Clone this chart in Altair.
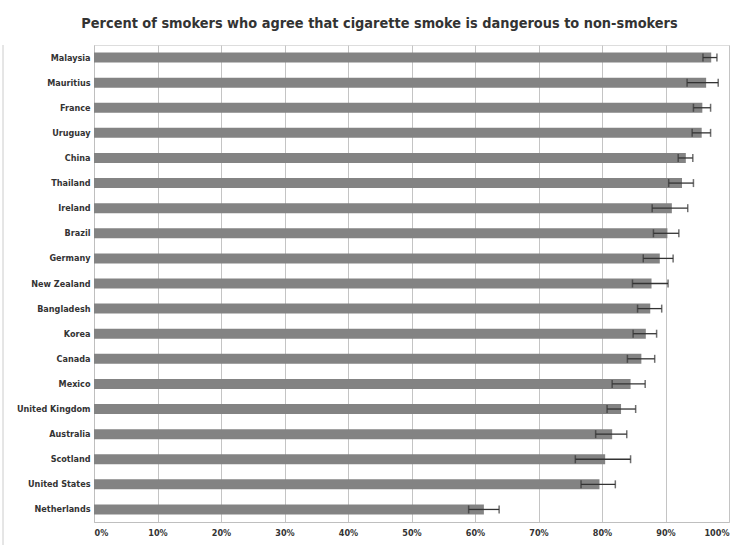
import altair as alt
import pandas as pd

countries = ["Malaysia", "Mauritius", "France", "Uruguay", "China", "Thailand", "Ireland",
             "Brazil", "Germany", "New Zealand", "Bangladesh", "Korea", "Canada", "Mexico",
             "United Kingdom", "Australia", "Scotland", "United States", "Netherlands"]
values = [97.2, 96.4, 95.8, 95.7, 93.2, 92.6, 91.0, 90.3, 89.1, 87.8, 87.6, 86.9, 86.2,
          84.5, 83.0, 81.6, 80.5, 79.6, 61.4]
lows = [95.9, 93.4, 94.4, 94.2, 92.0, 90.5, 87.9, 88.1, 86.5, 84.8, 85.6, 84.9, 84.0,
        81.6, 80.8, 79.0, 75.8, 76.7, 59.0]
highs = [98.1, 98.3, 97.1, 97.1, 94.3, 94.4, 93.5, 92.1, 91.2, 90.4, 89.4, 88.6, 88.3,
         86.8, 85.3, 83.9, 84.5, 82.1, 63.8]

df = pd.DataFrame({"country": countries, "value": [v / 100 for v in values],
                   "lo": [v / 100 for v in lows], "hi": [v / 100 for v in highs]})

FONT = "DejaVu Sans Condensed"

y_enc = alt.Y("country:N", sort=countries, title=None,
              axis=alt.Axis(labelFont=FONT, labelFontSize=9, labelFontWeight="bold",
                            labelColor="#333333", ticks=False, labelPadding=4,
                            domainColor="#bfbfbf", grid=False))
x_scale = alt.Scale(domain=[0, 1], nice=False)

base = alt.Chart(df)

bars = base.mark_bar(color="#838383", size=10).encode(
    x=alt.X("value:Q", scale=x_scale, title=None,
            axis=alt.Axis(format=".0%", values=[i / 10 for i in range(11)],
                          labelFont=FONT, labelFontSize=9, labelFontWeight="bold",
                          labelColor="#333333", ticks=False, labelPadding=6,
                          grid=True, gridColor="#c4c4c4", domainColor="#bfbfbf")),
    y=y_enc,
)

err = base.mark_rule(color="#333333", strokeWidth=1.3).encode(
    x=alt.X("lo:Q", scale=x_scale), x2="hi:Q", y=alt.Y("country:N", sort=countries))
cap_lo = base.mark_tick(color="#333333", thickness=1.5, size=8).encode(
    x=alt.X("lo:Q", scale=x_scale), y=alt.Y("country:N", sort=countries))
cap_hi = base.mark_tick(color="#333333", thickness=1.5, size=8).encode(
    x=alt.X("hi:Q", scale=x_scale), y=alt.Y("country:N", sort=countries))

frame = alt.Chart(pd.DataFrame({"a": [0]})).mark_rule(color="#cccccc").encode(
    x=alt.value(-91), y=alt.value(0), y2=alt.value(500))

chart = alt.layer(bars, err, cap_lo, cap_hi, frame).properties(
    width=635, height=477,
    padding={"left": 94, "top": 45, "right": 12, "bottom": 23},
    autosize=alt.AutoSizeParams(type="none"),
    title=alt.TitleParams("Percent of smokers who agree that cigarette smoke is dangerous to non-smokers",
                          font=FONT, fontSize=14.4, fontWeight="bold", color="#333333",
                          anchor="middle", frame="group", dx=-32, offset=13),
).configure_view(stroke=None).configure(background="white")

chart.save("out.html", embed_options={"renderer": "svg", "actions": False})
